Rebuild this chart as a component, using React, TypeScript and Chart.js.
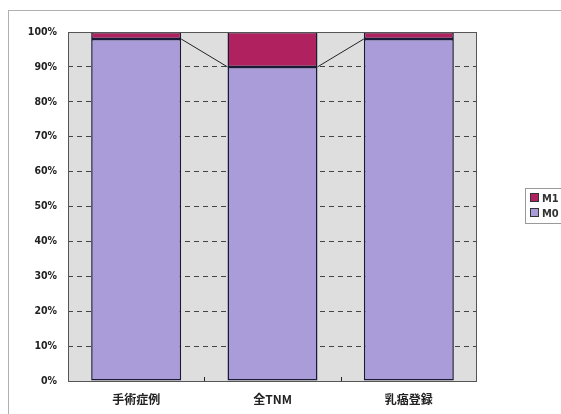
import React, { useEffect, useRef } from "react";
import { Chart, registerables } from "chart.js";

Chart.register(...registerables);

const categories = ["手術症例", "全TNM", "乳癌登録"];
const m0Values = [98, 90, 98];
const m1Values = [2, 10, 2];
const yTicks = [0, 10, 20, 30, 40, 50, 60, 70, 80, 90, 100];

const M0_COLOR = "#aa9bd9";
const M1_COLOR = "#b0215f";
const EDGE = "#1a1a36";

const framePlugin = {
  id: "frame",
  beforeDraw(chart: any) {
    const { ctx, chartArea } = chart;
    ctx.save();
    ctx.fillStyle = "#ffffff";
    ctx.fillRect(0, 0, chart.width, chart.height);
    ctx.strokeStyle = "#b0b0b0";
    ctx.lineWidth = 1;
    ctx.strokeRect(8.5, 10.5, chart.width + 10, chart.height + 10);
    ctx.fillStyle = "#dedede";
    ctx.fillRect(chartArea.left, chartArea.top, chartArea.right - chartArea.left, chartArea.bottom - chartArea.top);
    ctx.restore();
  },
  afterDatasetsDraw(chart: any) {
    const { ctx, chartArea } = chart;
    ctx.save();
    const meta = chart.getDatasetMeta(0);
    ctx.strokeStyle = "#222";
    ctx.lineWidth = 1;
    for (let i = 0; i < meta.data.length - 1; i++) {
      const a = meta.data[i] as any;
      const b = meta.data[i + 1] as any;
      ctx.beginPath();
      ctx.moveTo(a.x + a.width / 2, a.y);
      ctx.lineTo(b.x - b.width / 2, b.y);
      ctx.stroke();
    }
    const xs = chart.scales.x;
    for (let i = 1; i < categories.length; i++) {
      const px = Math.round((xs.getPixelForValue(i - 1) + xs.getPixelForValue(i)) / 2) + 0.5;
      ctx.beginPath();
      ctx.moveTo(px, chartArea.bottom);
      ctx.lineTo(px, chartArea.bottom - 4);
      ctx.stroke();
    }
    ctx.strokeStyle = "#555";
    ctx.strokeRect(chartArea.left + 0.5, chartArea.top + 0.5, chartArea.right - chartArea.left - 1, chartArea.bottom - chartArea.top);
    const lx = 525, ly = 188;
    ctx.strokeStyle = "#999";
    ctx.strokeRect(lx + 0.5, ly + 0.5, 60, 35);
    const items = [
      { label: "M1", color: M1_COLOR },
      { label: "M0", color: M0_COLOR },
    ];
    ctx.font = "bold 11px 'DejaVu Sans Condensed', 'DejaVu Sans', sans-serif";
    ctx.textBaseline = "middle";
    items.forEach((it, i) => {
      const cy = ly + 10 + i * 15;
      ctx.fillStyle = it.color;
      ctx.fillRect(lx + 6, cy - 4, 7, 7);
      ctx.strokeStyle = "#333";
      ctx.strokeRect(lx + 5.5, cy - 4.5, 8, 8);
      ctx.fillStyle = "#333";
      ctx.fillText(it.label, lx + 17, cy + 1);
    });
    ctx.restore();
  },
};

export default function App() {
  const ref = useRef<HTMLCanvasElement>(null);
  useEffect(() => {
    document.body.style.margin = "0";
    const chart = new Chart(ref.current!, {
      type: "bar",
      data: {
        labels: categories,
        datasets: [
          {
            label: "M0",
            data: m0Values,
            backgroundColor: M0_COLOR,
            borderColor: EDGE,
            borderWidth: 1.5,
            borderSkipped: false,
          },
          {
            label: "M1",
            data: m1Values,
            backgroundColor: M1_COLOR,
            borderColor: EDGE,
            borderWidth: 1.5,
            borderSkipped: false,
          },
        ],
      },
      options: {
        responsive: false,
        animation: false,
        layout: { padding: { left: 8, top: 32, right: 84, bottom: 0 } },
        plugins: { legend: { display: false }, tooltip: { enabled: false } },
        datasets: { bar: { barPercentage: 0.66, categoryPercentage: 1 } },
        scales: {
          x: {
            stacked: true,
            grid: { display: false },
            border: { display: false },
            ticks: {
              color: "#222",
              font: { family: "'Noto Sans CJK JP', sans-serif", size: 12, weight: "bold" },
              padding: 3,
            },
            afterFit: (s: any) => {
              s.height = 33;
            },
          },
          y: {
            stacked: true,
            min: 0,
            max: 100,
            afterBuildTicks: (s: any) => {
              s.ticks = yTicks.map((v) => ({ value: v }));
            },
            grid: {
              color: (c: any) => (c.tick && (c.tick.value === 0 || c.tick.value === 100) ? "rgba(0,0,0,0)" : "#444"),
              drawTicks: false,
            },
            border: { display: false, dash: [5, 4] },
            ticks: {
              color: "#222",
              padding: 11,
              font: { family: "'DejaVu Sans Condensed', 'DejaVu Sans', sans-serif", size: 10.5, weight: "bold" },
              callback: (v: any) => v + "%",
            },
            afterFit: (s: any) => {
              s.width = 60;
            },
          },
        },
      },
      plugins: [framePlugin],
    });
    return () => chart.destroy();
  }, []);
  return <canvas ref={ref} width={561} height={414} style={{ display: "block" }} />;
}
